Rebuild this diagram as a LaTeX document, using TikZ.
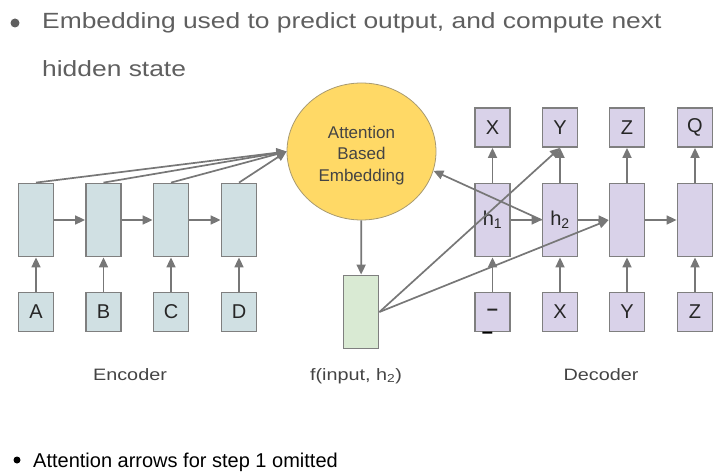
\documentclass[tikz,border=0pt]{standalone}
\usepackage{fontspec}
\setmainfont{Liberation Sans}
\usetikzlibrary{arrows.meta,shapes.geometric}
\definecolor{encfill}{HTML}{D0E0E3}
\definecolor{decfill}{HTML}{D9D2E9}
\definecolor{grnfill}{HTML}{D9EAD3}
\definecolor{yelfill}{HTML}{FFD966}
\definecolor{bordergray}{HTML}{7F7F7F}
\definecolor{arrowgray}{HTML}{777777}
\definecolor{titlegray}{HTML}{5F5F5F}
\definecolor{labelgray}{HTML}{444444}
\definecolor{ellborder}{HTML}{A89A70}
\begin{document}
\begin{tikzpicture}[x=1pt,y=-1pt,
  boxbase/.style={draw=bordergray, line width=1.8pt, minimum width=35pt, inner sep=0pt,
    font=\fontsize{20}{24}\selectfont, text=black!85},
  cell/.style={boxbase, minimum height=73pt},
  tok/.style={boxbase, minimum height=39pt},
  enc/.style={fill=encfill},
  dec/.style={fill=decfill},
  conn/.style={draw=arrowgray, line width=1.7pt, -{Triangle[length=10pt,width=9pt]}},
  lbl/.style={anchor=base, text=labelgray, font=\fontsize{16.5}{20}\selectfont, inner sep=0pt},
  dot/.style={circle, inner sep=0pt},
]
\useasboundingbox (0,0) rectangle (726,476);

% title
\node[dot, fill=titlegray, minimum size=9pt] (b1) at (15,23) {};
\node[anchor=base west, inner sep=0pt, text=titlegray, font=\fontsize{22}{26}\selectfont] (t1) at (42,29)
  {\scalebox{1.2}[1]{Embedding used to predict output, and compute next}};
\node[anchor=base west, inner sep=0pt, text=titlegray, font=\fontsize{22}{26}\selectfont] (t2) at (42,77)
  {\scalebox{1.2}[1]{hidden state}};

% encoder
\foreach \i/\x/\t in {1/36/A,2/103.5/B,3/171/C,4/239/D}{
  \node[cell, enc] (e\i) at (\x,220) {};
  \node[tok, enc] (a\i) at (\x,312) {\t};
}

% attention ellipse
\node[ellipse, draw=ellborder, line width=0.8pt, fill=yelfill, minimum width=149pt, minimum height=137pt,
  inner sep=0pt] (att) at (361.5,151.5) {};
\node[align=center, inner sep=0pt, text=labelgray, font=\fontsize{17}{21.5}\selectfont] (attlbl)
  at (361.5,155.5) {Attention\\Based\\Embedding};

% green f box
\node[cell, fill=grnfill] (f) at (361,312) {};

% decoder
\foreach \i/\x/\o/\n in {1/492.5/X/{\textbf{–}},2/560/Y/X,3/627/Z/Y,4/695/Q/Z}{
  \node[tok, dec] (o\i) at (\x,127.5) {\o};
  \node[tok, dec] (i\i) at (\x,312) {\n};
}
\node[cell, dec] (d1) at (492.5,220) {h\textsubscript{1}};
\node[cell, dec] (d2) at (560,220) {h\textsubscript{2}};
\node[cell, dec] (d3) at (627,220) {};
\node[cell, dec] (d4) at (695,220) {};
\node[inner sep=0pt, font=\fontsize{20}{24}\selectfont\bfseries] (ubar) at (487.5,335.5) {–};

% labels
\node[lbl] (lenc) at (130,380) {\scalebox{1.2}[1]{Encoder}};
\node[lbl] (lf) at (356,380) {\scalebox{1.2}[1]{f(input, h\textsubscript{2})}};
\node[lbl] (ldec) at (601,380) {\scalebox{1.2}[1]{Decoder}};

% bottom note
\node[dot, fill=black, minimum size=7pt] (b2) at (17,460) {};
\node[anchor=base west, inner sep=0pt, font=\fontsize{20}{24}\selectfont] (n1) at (33,467)
  {Attention arrows for step 1 omitted};

% encoder arrows
\foreach \i in {1,...,4}{
  \draw[conn] (a\i) -- (e\i);
  \draw[conn] (e\i.north) -- (att.west);
}
\draw[conn] (e1) -- (e2);
\draw[conn] (e2) -- (e3);
\draw[conn] (e3) -- (e4);

% attention to f
\draw[conn] (att) -- (f);

% decoder arrows
\foreach \i in {1,...,4}{
  \draw[conn] (i\i) -- (d\i);
  \draw[conn] (d\i) -- (o\i);
}
\draw[conn] (d1) -- (d2);
\draw[conn] (d2) -- (d3);
\draw[conn] (d3) -- (d4);

% attention related
\draw[conn] (d2.west) -- (att.-15);
\draw[conn] (f.east) -- (o2.south);
\draw[conn] (f.east) -- (d3.west);
\end{tikzpicture}
\end{document}
